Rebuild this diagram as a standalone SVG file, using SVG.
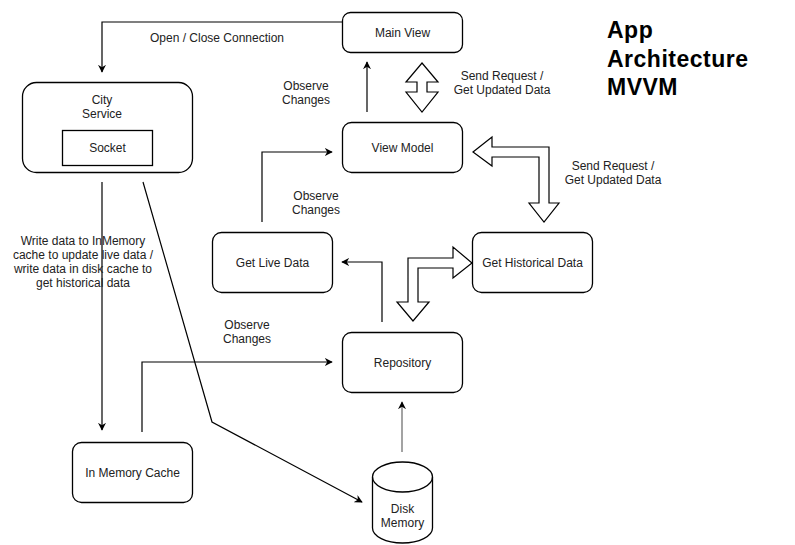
<svg xmlns="http://www.w3.org/2000/svg" width="795" height="545" viewBox="0 0 795 545">
<style>
.box{fill:#fff;stroke:#000;stroke-width:1.3}
.t{font-family:"Liberation Sans",Arial,sans-serif;font-size:12px;fill:#222;text-anchor:middle}
.ttl{font-family:"Liberation Sans",Arial,sans-serif;font-size:23px;font-weight:bold;fill:#000;letter-spacing:0.5px}
.ln{fill:none;stroke:#000;stroke-width:1.2}
.big{fill:#fff;stroke:#000;stroke-width:1.2;stroke-linejoin:miter}
</style>
<defs>
<marker id="ah" viewBox="0 0 10 10" refX="9" refY="5" markerWidth="8" markerHeight="8" markerUnits="userSpaceOnUse" orient="auto">
<path d="M0,0 L10,5 L0,10 L3,5 Z" fill="#000"/>
</marker>
</defs>
<rect width="795" height="545" fill="#fff"/>

<g id="connectors">
<path class="ln" d="M342,22 H102 V72" marker-end="url(#ah)"/>
<path class="ln" d="M367,112 V62" marker-end="url(#ah)"/>
<path class="ln" d="M262,222 V152 H332" marker-end="url(#ah)"/>
<path class="ln" d="M382,322 V262 H342" marker-end="url(#ah)"/>
<path class="ln" d="M142,432 V362 H332" marker-end="url(#ah)"/>
<path class="ln" d="M402,452 V402" style="stroke:#666" marker-end="url(#ah)"/>
<path class="ln" d="M102,182 V430" marker-end="url(#ah)"/>
<path class="ln" d="M143,182 L212,422 L362,502" marker-end="url(#ah)"/>
<polygon class="big" points="422,63 438,82 427,82 427,92 438,92 422,112 406,92 417,92 417,82 406,82"/>
<polygon class="big" points="473,152 492,137 492,147 549,147 549,203 559,203 544,222 529,203 539,203 539,157 492,157 492,166"/>
<polygon class="big" points="472,263 453,247 453,258 408,258 408,302 397,302 413,321 429,302 418,302 418,268 453,268 453,278"/>
<text class="t" x="217" y="42">Open / Close Connection</text>
<text class="t" x="306" y="90">Observe</text>
<text class="t" x="306" y="104">Changes</text>
<text class="t" x="502" y="80">Send Request /</text>
<text class="t" x="502" y="94">Get Updated Data</text>
<text class="t" x="613" y="170">Send Request /</text>
<text class="t" x="613" y="184">Get Updated Data</text>
<text class="t" x="316" y="200">Observe</text>
<text class="t" x="316" y="214">Changes</text>
<text class="t" x="83" y="245">Write data to InMemory</text>
<text class="t" x="83" y="259">cache to update live data /</text>
<text class="t" x="83" y="273">write data in disk cache to</text>
<text class="t" x="83" y="287">get historical data</text>
<text class="t" x="247" y="329">Observe</text>
<text class="t" x="247" y="343">Changes</text>
</g>

<g id="main-view">
<rect class="box" x="342.5" y="12.5" width="120" height="40" rx="8"/>
<text class="t" x="402.5" y="37">Main View</text>
</g>
<g id="city-service">
<rect class="box" x="22.5" y="82.5" width="170" height="90" rx="14"/>
<text class="t" x="102" y="104">City</text>
<text class="t" x="102" y="118">Service</text>
<g id="socket">
<rect class="box" x="62.5" y="130.5" width="90" height="35"/>
<text class="t" x="107.5" y="152">Socket</text>
</g>
</g>
<g id="view-model">
<rect class="box" x="342.5" y="122.5" width="120" height="50" rx="9"/>
<text class="t" x="402.5" y="152">View Model</text>
</g>
<g id="get-live-data">
<rect class="box" x="212.5" y="232.5" width="120" height="60" rx="9"/>
<text class="t" x="272.5" y="267">Get Live Data</text>
</g>
<g id="get-historical-data">
<rect class="box" x="472.5" y="232.5" width="120" height="60" rx="9"/>
<text class="t" x="532.5" y="267">Get Historical Data</text>
</g>
<g id="repository">
<rect class="box" x="342.5" y="332.5" width="120" height="60" rx="9"/>
<text class="t" x="402.5" y="367">Repository</text>
</g>
<g id="in-memory-cache">
<rect class="box" x="72.5" y="442.5" width="120" height="60" rx="9"/>
<text class="t" x="132.5" y="477">In Memory Cache</text>
</g>
<g id="disk-memory">
<path class="box" d="M372.5,477 A30,15 0 0 1 432.5,477 V528 A30,15 0 0 1 372.5,528 Z"/>
<path class="box" style="fill:none" d="M372.5,477 A30,15 0 0 0 432.5,477"/>
<text class="t" x="402.5" y="513">Disk</text>
<text class="t" x="402.5" y="527">Memory</text>
</g>
<g id="title">
<text class="ttl" x="607" y="38">App</text>
<text class="ttl" x="607" y="67">Architecture</text>
<text class="ttl" x="607" y="95">MVVM</text>
</g>
</svg>
